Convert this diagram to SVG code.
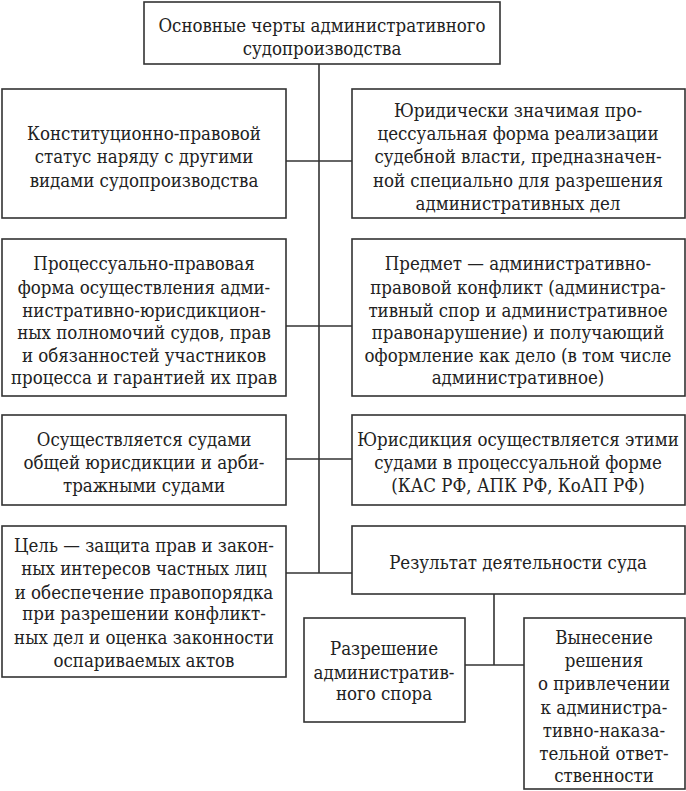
<svg xmlns="http://www.w3.org/2000/svg" width="686" height="791" viewBox="0 0 686 791">
<style>
rect{fill:#fff;stroke:#333;stroke-width:1.6}
line{stroke:#333;stroke-width:1.6}
text{font-family:"DejaVu Serif Condensed","DejaVu Serif",serif;font-size:18.5px;fill:#222;text-anchor:middle}
</style>
<rect x="0" y="0" width="686" height="791" style="stroke:none"/>
<g id="connectors">
<line x1="319" y1="64" x2="319" y2="573"/>
<line x1="286" y1="161" x2="352" y2="161"/>
<line x1="286" y1="326" x2="352" y2="326"/>
<line x1="286" y1="459" x2="352" y2="459"/>
<line x1="286" y1="573" x2="352" y2="573"/>
<line x1="494" y1="594" x2="494" y2="665"/>
<line x1="465" y1="665" x2="524" y2="665"/>
</g>
<g id="top">
<rect x="144" y="2" width="356" height="62"/>
<text x="322" y="32">Основные черты административного</text>
<text x="322" y="55">судопроизводства</text>
</g>
<g id="l1">
<rect x="2" y="89" width="284" height="129"/>
<text x="144" y="140">Конституционно-правовой</text>
<text x="144" y="163">статус наряду с другими</text>
<text x="144" y="187">видами судопроизводства</text>
</g>
<g id="r1">
<rect x="352" y="89" width="333" height="129"/>
<text x="518" y="117">Юридически значимая про-</text>
<text x="518" y="140">цессуальная форма реализации</text>
<text x="518" y="163">судебной власти, предназначен-</text>
<text x="518" y="187">ной специально для разрешения</text>
<text x="518" y="210">административных дел</text>
</g>
<g id="l2">
<rect x="2" y="239" width="284" height="157"/>
<text x="144" y="270">Процессуально-правовая</text>
<text x="144" y="294">форма осуществления адми-</text>
<text x="144" y="317">нистративно-юрисдикцион-</text>
<text x="144" y="339">ных полномочий судов, прав</text>
<text x="144" y="362">и обязанностей участников</text>
<text x="144" y="384">процесса и гарантией их прав</text>
</g>
<g id="r2">
<rect x="352" y="239" width="333" height="157"/>
<text x="518" y="270">Предмет — административно-</text>
<text x="518" y="294">правовой конфликт (администра-</text>
<text x="518" y="317">тивный спор и административное</text>
<text x="518" y="339">правонарушение) и получающий</text>
<text x="518" y="362">оформление как дело (в том числе</text>
<text x="518" y="384">административное)</text>
</g>
<g id="l3">
<rect x="2" y="415" width="284" height="90"/>
<text x="144" y="446">Осуществляется судами</text>
<text x="144" y="469">общей юрисдикции и арби-</text>
<text x="144" y="492">тражными судами</text>
</g>
<g id="r3">
<rect x="352" y="415" width="333" height="90"/>
<text x="518" y="446">Юрисдикция осуществляется этими</text>
<text x="518" y="469">судами в процессуальной форме</text>
<text x="518" y="492">(КАС РФ, АПК РФ, КоАП РФ)</text>
</g>
<g id="l4">
<rect x="2" y="526" width="284" height="151"/>
<text x="144" y="552">Цель — защита прав и закон-</text>
<text x="144" y="575">ных интересов частных лиц</text>
<text x="144" y="599">и обеспечение правопорядка</text>
<text x="144" y="620">при разрешении конфликт-</text>
<text x="144" y="644">ных дел и оценка законности</text>
<text x="144" y="667">оспариваемых актов</text>
</g>
<g id="r4">
<rect x="352" y="526" width="333" height="68"/>
<text x="518" y="569">Результат деятельности суда</text>
</g>
<g id="r5">
<rect x="304" y="618" width="161" height="104"/>
<text x="384" y="655">Разрешение</text>
<text x="384" y="679">административ-</text>
<text x="384" y="700">ного спора</text>
</g>
<g id="r6">
<rect x="524" y="618" width="161" height="171"/>
<text x="604" y="644">Вынесение</text>
<text x="604" y="667">решения</text>
<text x="604" y="690">о привлечении</text>
<text x="604" y="714">к администра-</text>
<text x="604" y="737">тивно-наказа-</text>
<text x="604" y="760">тельной ответ-</text>
<text x="604" y="782">ственности</text>
</g>
</svg>
